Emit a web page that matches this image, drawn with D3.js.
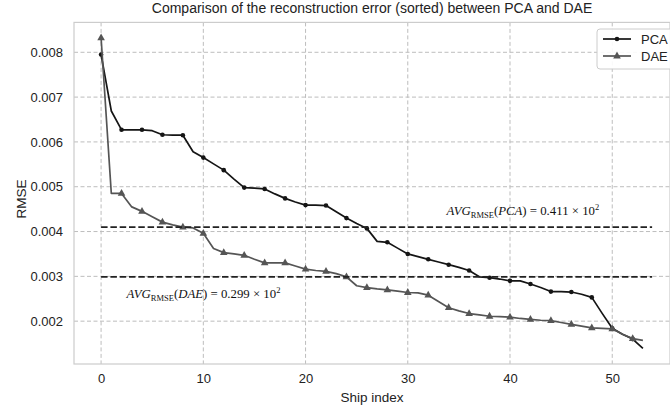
<!DOCTYPE html>
<html><head><meta charset="utf-8">
<script src="https://cdn.jsdelivr.net/npm/d3@7"></script>
<style>
html,body{margin:0;padding:0;background:#fff;}
svg{display:block;}
text{font-family:"Liberation Sans",Arial,Helvetica,sans-serif;fill:#222;}
.ann{font-family:"Liberation Serif","Times New Roman",serif;fill:#111;}
</style></head>
<body>
<script>
const shipIndex = d3.range(0, 54);
const pcaRMSE = [0.00795,0.00669,0.00627,0.00627,0.00627,0.00625,0.00616,0.00615,0.00615,0.00578,
  0.00565,0.00551,0.00537,0.00517,0.00498,0.00497,0.00495,0.00484,0.00474,0.00466,
  0.00459,0.00459,0.00458,0.00444,0.00430,0.00418,0.00407,0.00378,0.00376,0.00363,
  0.00350,0.00344,0.00338,0.00332,0.00326,0.00320,0.00313,0.00299,0.00297,0.00294,
  0.00290,0.00290,0.00283,0.00275,0.00266,0.00266,0.00265,0.00260,0.00253,0.00218,
  0.00184,0.00171,0.00160,0.00139];
const daeRMSE = [0.00832,0.00485,0.00485,0.00455,0.00445,0.00433,0.00421,0.00415,0.00410,0.00408,
  0.00396,0.00362,0.00353,0.00350,0.00347,0.00338,0.00330,0.00330,0.00330,0.00323,
  0.00316,0.00313,0.00311,0.00306,0.00299,0.00279,0.00275,0.00272,0.00270,0.00267,
  0.00264,0.00263,0.00258,0.00244,0.00230,0.00223,0.00217,0.00214,0.00211,0.00210,
  0.00209,0.00206,0.00204,0.00202,0.00201,0.00197,0.00193,0.00189,0.00185,0.00184,
  0.00183,0.00171,0.00161,0.00157];
const avgPCA = 0.00410;
const avgDAE = 0.00299;
const xTicks = [0,10,20,30,40,50];
const yTicks = [0.002,0.003,0.004,0.005,0.006,0.007,0.008];
const seriesNames = ["PCA","DAE"];

const W = 670, H = 407;
const L = 74, R = 670, T = 22.4, B = 364;
const svg = d3.select("body").append("svg").attr("width", W).attr("height", H);

const x = d3.scaleLinear().domain([-2.65, 55.65]).range([L, R]);
const y = d3.scaleLinear().domain([0.001044, 0.008667]).range([B, T]);

// grid
const grid = svg.append("g");
grid.selectAll(".vg").data(xTicks).join("line")
  .attr("x1", d => x(d)).attr("x2", d => x(d)).attr("y1", T).attr("y2", B)
  .attr("stroke", "#bdbdbd").attr("stroke-width", 1).attr("stroke-dasharray", "4,2.5");
grid.selectAll(".hg").data(yTicks).join("line")
  .attr("x1", L).attr("x2", R).attr("y1", d => y(d)).attr("y2", d => y(d))
  .attr("stroke", "#bdbdbd").attr("stroke-width", 1).attr("stroke-dasharray", "4,2.5");

// frame
svg.append("rect").attr("x", L).attr("y", T).attr("width", R - L).attr("height", B - T)
  .attr("fill", "none").attr("stroke", "#cccccc").attr("stroke-width", 1.2);

// axes (tick labels only)
const xAxis = d3.axisBottom(x).tickValues(xTicks).tickSize(0).tickPadding(10).tickFormat(d3.format("d"));
const gx = svg.append("g").attr("transform", `translate(0,${B})`).call(xAxis);
gx.select(".domain").remove();
gx.selectAll("text").attr("font-size", 13).attr("fill", "#222").attr("font-family", '"Liberation Sans",Arial,sans-serif');

const yAxis = d3.axisLeft(y).tickValues(yTicks).tickSize(0).tickPadding(11).tickFormat(d3.format(".3f"));
const gy = svg.append("g").attr("transform", `translate(${L},0)`).call(yAxis);
gy.select(".domain").remove();
gy.selectAll("text").attr("font-size", 13).attr("fill", "#222").attr("font-family", '"Liberation Sans",Arial,sans-serif');

// labels
svg.append("text").attr("x", (L + R) / 2).attr("y", 13).attr("text-anchor", "middle")
  .attr("font-size", 14).text("Comparison of the reconstruction error (sorted) between PCA and DAE");
svg.append("text").attr("x", (L + R) / 2).attr("y", 401.5).attr("text-anchor", "middle")
  .attr("font-size", 13.5).text("Ship index");
svg.append("text").attr("transform", `translate(26,199) rotate(-90)`).attr("text-anchor", "middle")
  .attr("font-size", 13.5).text("RMSE");

const clip = svg.append("clipPath").attr("id", "clip").append("rect")
  .attr("x", L).attr("y", T).attr("width", R - L).attr("height", B - T);
const plot = svg.append("g").attr("clip-path", "url(#clip)");

const line = d3.line().x((d, i) => x(shipIndex[i])).y(d => y(d));

// PCA
plot.append("path").datum(pcaRMSE).attr("d", line).attr("fill", "none")
  .attr("stroke", "#151515").attr("stroke-width", 1.7).attr("stroke-linejoin", "round");
plot.selectAll(".pm").data(pcaRMSE.map((v, i) => [shipIndex[i], v]).filter((d, i) => i % 2 === 0)).join("circle")
  .attr("cx", d => x(d[0])).attr("cy", d => y(d[1])).attr("r", 2.3).attr("fill", "#151515");

// DAE
const tri = "M0,-4.4L3.8,2.4L-3.8,2.4Z";
plot.append("path").datum(daeRMSE).attr("d", line).attr("fill", "none")
  .attr("stroke", "#555555").attr("stroke-width", 1.7).attr("stroke-linejoin", "round");
plot.selectAll(".dm").data(daeRMSE.map((v, i) => [shipIndex[i], v]).filter((d, i) => i % 2 === 0)).join("path")
  .attr("d", tri).attr("transform", d => `translate(${x(d[0])},${y(d[1])})`).attr("fill", "#555555");

// average lines
[avgPCA, avgDAE].forEach(v => {
  plot.append("line").attr("x1", x(0)).attr("x2", x(53.9)).attr("y1", y(v)).attr("y2", y(v))
    .attr("stroke", "#222").attr("stroke-width", 1.8).attr("stroke-dasharray", "6.5,2.8");
});

// annotations
function ann(xp, yp, name, val) {
  const t = svg.append("text").attr("class", "ann").attr("x", xp).attr("y", yp).attr("font-size", 12.8);
  t.append("tspan").attr("font-style", "italic").text("AVG");
  t.append("tspan").attr("font-size", 8.5).attr("dy", 3).text("RMSE");
  t.append("tspan").attr("dy", -3).text("(");
  t.append("tspan").attr("font-style", "italic").text(name);
  t.append("tspan").text(") = " + val + " \u00d7 10");
  t.append("tspan").attr("font-size", 8.5).attr("dy", -5).text("2");
}
ann(446.5, 215, "PCA", "0.411");
ann(126.5, 298, "DAE", "0.299");

// legend
const lg = svg.append("g");
lg.append("rect").attr("x", 597).attr("y", 29).attr("width", 80).attr("height", 40).attr("rx", 3)
  .attr("fill", "#fff").attr("fill-opacity", 0.9).attr("stroke", "#cccccc").attr("stroke-width", 1);
const items = [{n: seriesNames[0], c: "#151515", m: "c", y: 39}, {n: seriesNames[1], c: "#555555", m: "t", y: 56}];
items.forEach(it => {
  lg.append("line").attr("x1", 603).attr("x2", 631).attr("y1", it.y).attr("y2", it.y)
    .attr("stroke", it.c).attr("stroke-width", 1.7);
  if (it.m === "c") lg.append("circle").attr("cx", 617).attr("cy", it.y).attr("r", 2.3).attr("fill", it.c);
  else lg.append("path").attr("d", tri).attr("transform", `translate(617,${it.y})`).attr("fill", it.c);
  lg.append("text").attr("x", 641).attr("y", it.y + 4.7).attr("font-size", 13).text(it.n);
});
</script>
</body></html>
